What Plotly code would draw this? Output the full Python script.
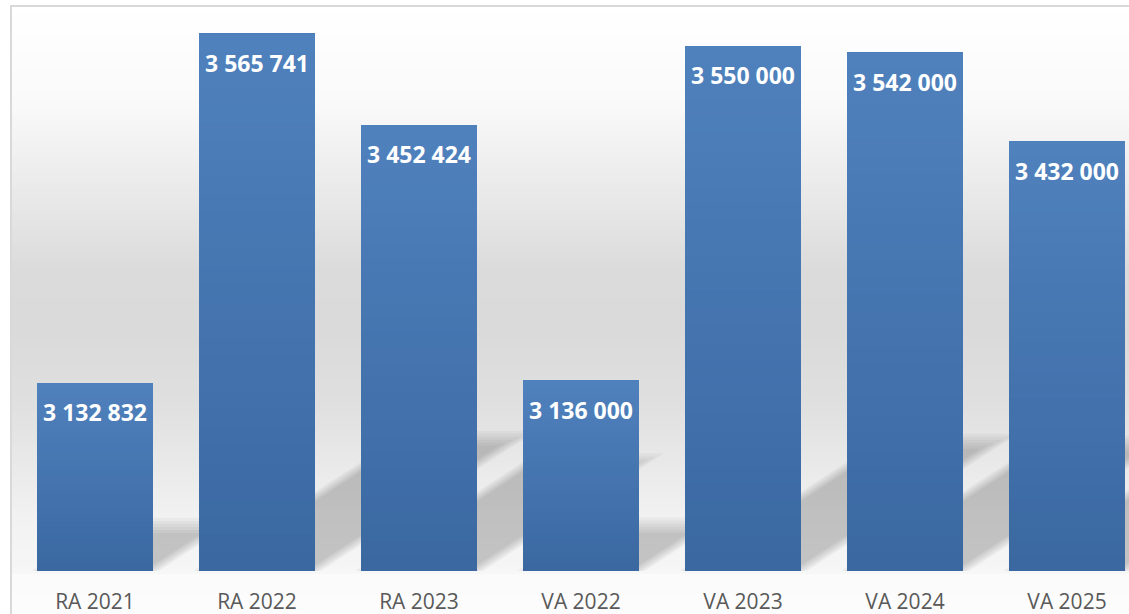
import plotly.graph_objects as go

categories = ["RA 2021", "RA 2022", "RA 2023", "VA 2022", "VA 2023", "VA 2024", "VA 2025"]
values = [3132832, 3565741, 3452424, 3136000, 3550000, 3542000, 3432000]

Y_MIN, Y_MAX = 2_900_000, 3_600_000
W, H = 1129, 614
ML, MR, MT, MB = 14, 0, 6, 43
PLOT_W = W - ML - MR
PLOT_H = H - MT - MB
CAT_PX = 162.0
X_LO = -0.5
X_HI = X_LO + PLOT_W / CAT_PX
BAR_W = 116 / CAT_PX
PX_PER_Y = PLOT_H / (Y_MAX - Y_MIN)

def hex2rgb(h):
    h = h.lstrip("#")
    return tuple(int(h[i:i + 2], 16) for i in (0, 2, 4))

def lerp(c1, c2, t):
    a, b = hex2rgb(c1), hex2rgb(c2)
    return "rgb(%d,%d,%d)" % tuple(round(a[i] + (b[i] - a[i]) * t) for i in range(3))

fig = go.Figure()

# gradient bars (layered overlay)
N = 30
BOTTOM_C, TOP_C = "#3b68a1", "#4f81bd"
idx = list(range(len(categories)))
for k in range(N):
    f = k / N
    bases = [Y_MIN + (v - Y_MIN) * f for v in values]
    heights = [(v - Y_MIN) * (1 - f) for v in values]
    fig.add_trace(go.Bar(
        x=idx, y=heights, base=bases, width=BAR_W,
        marker=dict(color=lerp(BOTTOM_C, TOP_C, k / (N - 1)), line=dict(width=0)),
        hoverinfo="skip", showlegend=False,
    ))

shapes = []
# background gradient bands (paper coords)
stops = [(6, 0xff), (100, 0xfa), (200, 0xe8), (270, 0xdb), (330, 0xda), (400, 0xdf),
         (470, 0xea), (520, 0xf2), (571, 0xf6), (575, 0xfb), (614, 0xfc)]
def gray_at(py):
    for (p0, g0), (p1, g1) in zip(stops, stops[1:]):
        if p0 <= py <= p1:
            t = (py - p0) / (p1 - p0)
            return round(g0 + (g1 - g0) * t)
    return stops[-1][1]
def py2paper(py):
    return (H - MB - py) / PLOT_H
xl = (11 - ML) / PLOT_W
step = 4
py = 6
while py < 614:
    g = gray_at(py + step / 2)
    shapes.append(dict(type="rect", xref="paper", yref="paper", layer="below",
                       x0=xl, x1=1.02, y0=py2paper(min(py + step, 614)), y1=py2paper(py),
                       fillcolor="rgb(%d,%d,%d)" % (g, g, g), line=dict(width=0)))
    py += step

# bar shadows (perspective, computed from values), soft edges via stacked layers
SLOPE = 0.65
LEN = 0.25
for i, v in enumerate(values):
    hpx = (v - Y_MIN) * PX_PER_Y
    dy = LEN * hpx
    for inset in [-6, -3, 0, 3, 6, 9]:
        op = 0.036
        e = inset / CAT_PX
        x0 = i - BAR_W / 2 + e
        x1 = i + BAR_W / 2 - e
        yb_px = max(inset, 0) * 0.4
        yt_px = dy - inset
        if yt_px <= yb_px + 2:
            continue
        yb = Y_MIN + yb_px / PX_PER_Y
        yt = Y_MIN + yt_px / PX_PER_Y
        dxb = (yb_px / SLOPE) / CAT_PX
        dxt = (yt_px / SLOPE) / CAT_PX
        path = (f"M{x0 + dxb},{yb} L{x1 + dxb},{yb} "
                f"L{x1 + dxt},{yt} L{x0 + dxt},{yt} Z")
        shapes.append(dict(type="path", xref="x", yref="y", layer="below", path=path,
                           fillcolor=f"rgba(0,0,0,{op})", line=dict(width=0)))

# chart border
shapes.append(dict(type="rect", xref="paper", yref="paper", layer="above",
                   x0=xl, x1=1.05, y0=py2paper(700), y1=py2paper(6),
                   fillcolor="rgba(0,0,0,0)", line=dict(color="#d9d9d9", width=2)))

annotations = []
for i, v in enumerate(values):
    annotations.append(dict(
        x=i, y=v, xref="x", yref="y", text=f"{v:,}".replace(",", " "),
        showarrow=False, yanchor="middle", yshift=-29,
        font=dict(family="Open Sans", size=23, color="white", weight="bold"),
    ))

fig.update_layout(
    width=W, height=H, barmode="overlay",
    margin=dict(l=ML, r=MR, t=MT, b=MB, pad=0),
    paper_bgcolor="white", plot_bgcolor="rgba(0,0,0,0)",
    shapes=shapes, annotations=annotations, showlegend=False,
    xaxis=dict(range=[X_LO, X_HI], tickvals=idx, ticktext=categories,
               showgrid=False, zeroline=False, showline=False, ticks="",
               ticklabelstandoff=16,
               tickfont=dict(family="Open Sans", size=21, color="#595959")),
    yaxis=dict(range=[Y_MIN, Y_MAX], visible=False, showgrid=False, zeroline=False),
)

fig.write_html("out.html", config={"displayModeBar": False},
               post_script="document.body.style.margin='0';")
